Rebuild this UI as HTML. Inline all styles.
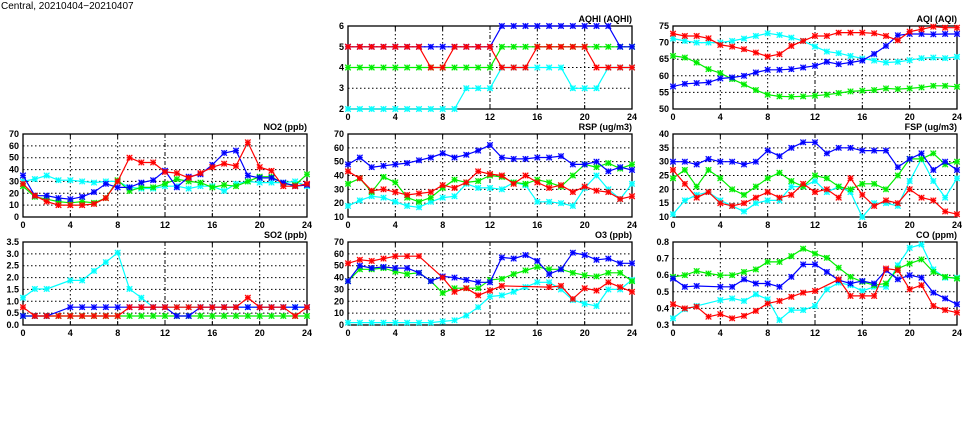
<!DOCTYPE html>
<html><head><meta charset="utf-8">
<style>
html,body{margin:0;padding:0;background:#fff;}
svg{display:block;}
text{font-family:"Liberation Sans",sans-serif;font-size:9px;font-weight:bold;fill:#000;}
.yl{text-anchor:end;}
.xl{text-anchor:middle;}
.tt{text-anchor:end;}
</style></head>
<body>
<svg id="s" width="975" height="447" viewBox="0 0 975 447" xmlns="http://www.w3.org/2000/svg">
<text x="1" y="9" style="font-size:10px;font-weight:normal">Central, 20210404−20210407</text>

<g transform="translate(348,26)">
<text class="tt" x="284" y="-4">AQHI (AQHI)</text>
<text class="yl" x="-4" y="86">2</text><text class="yl" x="-4" y="65">3</text><text class="yl" x="-4" y="44.5">4</text><text class="yl" x="-4" y="24">5</text><text class="yl" x="-4" y="3">6</text>
<text class="xl" x="0" y="94">0</text><text class="xl" x="47.3" y="94">4</text><text class="xl" x="94.7" y="94">8</text><text class="xl" x="142" y="94">12</text><text class="xl" x="189.3" y="94">16</text><text class="xl" x="236.7" y="94">20</text><text class="xl" x="284" y="94">24</text>
</g>
<g transform="translate(673,26)">
<text class="tt" x="284" y="-4">AQI (AQI)</text>
<text class="yl" x="-4" y="86">50</text><text class="yl" x="-4" y="69.4">55</text><text class="yl" x="-4" y="52.8">60</text><text class="yl" x="-4" y="36.2">65</text><text class="yl" x="-4" y="19.6">70</text><text class="yl" x="-4" y="3">75</text>
<text class="xl" x="0" y="94">0</text><text class="xl" x="47.3" y="94">4</text><text class="xl" x="94.7" y="94">8</text><text class="xl" x="142" y="94">12</text><text class="xl" x="189.3" y="94">16</text><text class="xl" x="236.7" y="94">20</text><text class="xl" x="284" y="94">24</text>
</g>
<g transform="translate(23,134)">
<text class="tt" x="284" y="-4">NO2 (ppb)</text>
<text class="yl" x="-4" y="86">0</text><text class="yl" x="-4" y="74.1">10</text><text class="yl" x="-4" y="62.3">20</text><text class="yl" x="-4" y="50.4">30</text><text class="yl" x="-4" y="38.6">40</text><text class="yl" x="-4" y="26.7">50</text><text class="yl" x="-4" y="14.9">60</text><text class="yl" x="-4" y="3">70</text>
<text class="xl" x="0" y="94">0</text><text class="xl" x="47.3" y="94">4</text><text class="xl" x="94.7" y="94">8</text><text class="xl" x="142" y="94">12</text><text class="xl" x="189.3" y="94">16</text><text class="xl" x="236.7" y="94">20</text><text class="xl" x="284" y="94">24</text>
</g>
<g transform="translate(348,134)">
<text class="tt" x="284" y="-4">RSP (ug/m3)</text>
<text class="yl" x="-4" y="86">10</text><text class="yl" x="-4" y="72.2">20</text><text class="yl" x="-4" y="58.3">30</text><text class="yl" x="-4" y="44.5">40</text><text class="yl" x="-4" y="30.7">50</text><text class="yl" x="-4" y="16.8">60</text><text class="yl" x="-4" y="3">70</text>
<text class="xl" x="0" y="94">0</text><text class="xl" x="47.3" y="94">4</text><text class="xl" x="94.7" y="94">8</text><text class="xl" x="142" y="94">12</text><text class="xl" x="189.3" y="94">16</text><text class="xl" x="236.7" y="94">20</text><text class="xl" x="284" y="94">24</text>
</g>
<g transform="translate(673,134)">
<text class="tt" x="284" y="-4">FSP (ug/m3)</text>
<text class="yl" x="-4" y="86">10</text><text class="yl" x="-4" y="72.2">15</text><text class="yl" x="-4" y="58.3">20</text><text class="yl" x="-4" y="44.5">25</text><text class="yl" x="-4" y="30.7">30</text><text class="yl" x="-4" y="16.8">35</text><text class="yl" x="-4" y="3">40</text>
<text class="xl" x="0" y="94">0</text><text class="xl" x="47.3" y="94">4</text><text class="xl" x="94.7" y="94">8</text><text class="xl" x="142" y="94">12</text><text class="xl" x="189.3" y="94">16</text><text class="xl" x="236.7" y="94">20</text><text class="xl" x="284" y="94">24</text>
</g>
<g transform="translate(23,242)">
<text class="tt" x="284" y="-4">SO2 (ppb)</text>
<text class="yl" x="-4" y="86">0.0</text><text class="yl" x="-4" y="74.1">0.5</text><text class="yl" x="-4" y="62.3">1.0</text><text class="yl" x="-4" y="50.4">1.5</text><text class="yl" x="-4" y="38.6">2.0</text><text class="yl" x="-4" y="26.7">2.5</text><text class="yl" x="-4" y="14.9">3.0</text><text class="yl" x="-4" y="3">3.5</text>
<text class="xl" x="0" y="94">0</text><text class="xl" x="47.3" y="94">4</text><text class="xl" x="94.7" y="94">8</text><text class="xl" x="142" y="94">12</text><text class="xl" x="189.3" y="94">16</text><text class="xl" x="236.7" y="94">20</text><text class="xl" x="284" y="94">24</text>
</g>
<g transform="translate(348,242)">
<text class="tt" x="284" y="-4">O3 (ppb)</text>
<text class="yl" x="-4" y="86">0</text><text class="yl" x="-4" y="74.1">10</text><text class="yl" x="-4" y="62.3">20</text><text class="yl" x="-4" y="50.4">30</text><text class="yl" x="-4" y="38.6">40</text><text class="yl" x="-4" y="26.7">50</text><text class="yl" x="-4" y="14.9">60</text><text class="yl" x="-4" y="3">70</text>
<text class="xl" x="0" y="94">0</text><text class="xl" x="47.3" y="94">4</text><text class="xl" x="94.7" y="94">8</text><text class="xl" x="142" y="94">12</text><text class="xl" x="189.3" y="94">16</text><text class="xl" x="236.7" y="94">20</text><text class="xl" x="284" y="94">24</text>
</g>
<g transform="translate(673,242)">
<text class="tt" x="284" y="-4">CO (ppm)</text>
<text class="yl" x="-4" y="86">0.3</text><text class="yl" x="-4" y="69.4">0.4</text><text class="yl" x="-4" y="52.8">0.5</text><text class="yl" x="-4" y="36.2">0.6</text><text class="yl" x="-4" y="19.6">0.7</text><text class="yl" x="-4" y="3">0.8</text>
<text class="xl" x="0" y="94">0</text><text class="xl" x="47.3" y="94">4</text><text class="xl" x="94.7" y="94">8</text><text class="xl" x="142" y="94">12</text><text class="xl" x="189.3" y="94">16</text><text class="xl" x="236.7" y="94">20</text><text class="xl" x="284" y="94">24</text>
</g>
</svg>
<script>
(function(){
var NS="http://www.w3.org/2000/svg",svg=document.getElementById("s");
var W=284,H=83;
var C={c:"#00ffff",g:"#00ee00",b:"#0000ff",r:"#ff0000"};
var P=[
{x:348,y:26,min:2,max:6,n:5,d:{
c:[2,2,2,2,2,2,2,2,2,2,3,3,3,4,4,4,4,4,4,3,3,3,4,4,4],
g:[4,4,4,4,4,4,4,4,4,4,4,4,4,5,5,5,5,5,5,5,5,5,5,5,5],
b:[5,5,5,5,5,5,5,5,5,5,5,5,5,6,6,6,6,6,6,6,6,6,6,5,5],
r:[5,5,5,5,5,5,5,4,4,5,5,5,5,4,4,4,5,5,5,5,5,4,4,4,4]}},
{x:673,y:26,min:50,max:75,n:6,d:{
c:[71.2,70.5,70,70,70,70.5,71.2,72,72.8,72.3,71.5,70.5,68.8,67.3,66.8,66,65.2,64.6,64,64.2,64.7,65.3,65.5,65.3,65.7],
g:[66,65.5,64,62,60.8,59,57.4,55.7,54.3,53.8,53.7,53.8,54,54.3,54.8,55.3,55.5,55.7,56.2,56,56.2,56.5,57,57,56.7],
b:[56.8,57.6,57.8,58,59.2,59.5,60,61,61.8,61.8,62,62.5,63,64.2,63.5,64,64.6,66.6,69,72.2,72.6,72.6,72.5,72.6,72.6],
r:[72.7,72,72,71.3,69.3,68.8,68,67,65.8,66.5,69,70.5,72,72,73,73,73,72.8,72,70.7,73.3,74,74.8,74.5,74.5]}},
{x:23,y:134,min:0,max:70,n:8,d:{
c:[30,32,35,31,31,30,29,30,30,25,24,24,26,26,24,26,26,22,28,30,29,29,29,30,26],
g:[26,17,15,13,12,13,12,16,31,22,25,25,28,32,30,29,25,27,26,30,34,34,28,27,36],
b:[35,18,18,16,15,17,21,28,25,25,29,31,39,25,34,36,44,54,56,35,33,33,29,26,27],
r:[28,18,13,10,10,10,11,16,30,50,46,46,38,37,33,37,42,45,43,63,42,39,26,26,28]}},
{x:348,y:134,min:10,max:70,n:7,d:{
c:[18,22,25,24,21,18,17,21,24,25,34,31,31,30,35,33,21,21,20,18,31,40,30,23,34],
g:[34,38,28,39,35,24,21,24,31,37,35,36,40,39,35,34,37,35,32,40,48,46,49,45,48],
b:[48,53,46,47,48,49,51,53,56,53,55,58,62,53,52,52,53,53,54,48,48,50,43,46,44],
r:[43,38,29,30,28,26,27,28,33,31,35,43,41,40,34,40,35,31,33,28,32,29,28,23,25]}},
{x:673,y:134,min:10,max:40,n:7,d:{
c:[11,16,18,19,16,14,12,15,16,16,21,21,23,19,21,19,10,15,15,14,23,31,23,17,24],
g:[24,27,21,27,24,20,18,21,24,26,23,21,25,24,21,20,22,22,20,25,31,31,33,29,30],
b:[30,30,29,31,30,30,29,30,34,32,35,37,37,33,35,35,34,34,34,28,31,33,27,30,27],
r:[27,22,17,19,15,14,15,17,19,17,18,22,19,20,17,24,18,14,16,15,20,17,16,12,11]}},
{x:23,y:242,min:0,max:3.5,n:8,d:{
c:[1.15,1.52,1.52,null,1.88,1.88,2.28,2.65,3.05,1.52,1.15,0.75,0.75,0.75,0.75,0.75,0.75,0.75,0.75,0.75,0.75,0.75,0.75,0.75,0.75],
g:[0.38,0.38,0.38,0.38,0.38,0.38,0.38,0.38,0.38,0.38,0.38,0.38,0.38,0.38,0.38,0.38,0.38,0.38,0.38,0.38,0.38,0.38,0.38,0.38,0.38],
b:[0.38,0.38,0.38,null,0.75,0.75,0.75,0.75,0.75,0.75,0.75,0.75,0.75,0.38,0.38,0.75,0.75,0.75,0.75,0.75,0.75,0.75,0.75,0.75,0.75],
r:[0.75,0.38,0.38,0.38,0.38,0.38,0.38,0.38,0.38,0.75,0.75,0.75,0.75,0.75,0.75,0.75,0.75,0.75,0.75,1.15,0.75,0.75,0.75,0.38,0.75]}},
{x:348,y:242,min:0,max:70,n:8,d:{
c:[2,2,2,2,2,2,2,2,3,4,8,15,24,25,28,32,36,36,30,21,18,16,30,30,38],
g:[37,47,47,48,45,43,44,37,27,31,31,31,38,39,43,46,49,47,47,44,42,41,44,44,37],
b:[37,50,48,49,48,48,44,37,41,40,38,36,36,57,56,59,54,43,47,61,59,55,56,52,52],
r:[52,55,54,56,58,58,58,null,40,28,31,25,29,33,null,null,null,32,33,22,31,29,36,32,28]}},
{x:673,y:242,min:0.3,max:0.8,n:6,d:{
c:[0.34,0.395,0.415,null,0.45,0.46,0.445,0.485,0.455,0.33,0.39,0.39,0.415,0.515,0.555,0.54,0.505,0.53,0.53,0.66,0.765,0.785,0.635,0.585,0.585],
g:[0.59,0.6,0.625,0.61,0.6,0.6,0.62,0.635,0.68,0.68,0.715,0.76,0.73,0.705,0.645,0.59,0.56,0.54,0.55,0.64,0.67,0.695,0.62,0.59,0.58],
b:[0.58,0.53,0.535,null,0.53,0.53,0.575,0.55,0.55,0.53,0.59,0.665,0.665,0.62,0.57,0.55,0.565,0.55,0.63,0.575,0.6,0.585,0.495,0.46,0.425],
r:[0.425,0.4,0.41,0.35,0.365,0.34,0.355,0.385,0.43,0.445,0.47,0.495,0.505,null,0.575,0.475,0.475,0.475,0.64,0.63,0.515,0.54,0.415,0.39,0.375]}}
];
function el(n,a){var e=document.createElementNS(NS,n);for(var k in a)e.setAttribute(k,a[k]);svg.appendChild(e);return e;}
P.forEach(function(p){
  el("rect",{x:p.x,y:p.y,width:W,height:H,fill:"#fff",stroke:"none"});
  for(var i=1;i<p.n-1;i++){var yy=p.y+H*i/(p.n-1);el("line",{x1:p.x,x2:p.x+W,y1:yy,y2:yy,stroke:"#000","stroke-width":1,"stroke-dasharray":"1.5,2.5"});}
  for(var h=4;h<24;h+=4){var xx=p.x+W*h/24;el("line",{x1:xx,x2:xx,y1:p.y,y2:p.y+H,stroke:"#000","stroke-width":1,"stroke-dasharray":h==12?"4,2,1,2":"1.5,2.5"});}
  el("rect",{x:p.x,y:p.y,width:W,height:H,fill:"none",stroke:"#000","stroke-width":1.3});
  for(var h=0;h<=24;h+=4){var xx=p.x+W*h/24;el("line",{x1:xx,x2:xx,y1:p.y+H,y2:p.y+H-4,stroke:"#000"});el("line",{x1:xx,x2:xx,y1:p.y,y2:p.y+4,stroke:"#000"});}
  ["c","g","b","r"].forEach(function(k){
    var arr=p.d[k],pts=[];
    arr.forEach(function(v,i){if(v===null)return;var X=p.x+W*i/24,Y=p.y+H-(v-p.min)/(p.max-p.min)*H;pts.push([X,Y]);});
    el("polyline",{points:pts.map(function(q){return q[0].toFixed(1)+","+q[1].toFixed(1);}).join(" "),fill:"none",stroke:C[k],"stroke-width":1.2});
    pts.forEach(function(q){
      var X=q[0],Y=q[1],s=2.8;
      el("rect",{x:X-s,y:Y-s,width:2*s,height:2*s,fill:C[k],"fill-opacity":0.25,stroke:"none"});
      el("path",{d:"M"+(X-s)+","+(Y-s)+"L"+(X+s)+","+(Y+s)+"M"+(X-s)+","+(Y+s)+"L"+(X+s)+","+(Y-s)+"M"+(X-s)+","+Y+"L"+(X+s)+","+Y+"M"+X+","+(Y-s)+"L"+X+","+(Y+s),stroke:C[k],"stroke-width":1.1,fill:"none"});
    });
  });
});
})();
</script>
</body></html>
